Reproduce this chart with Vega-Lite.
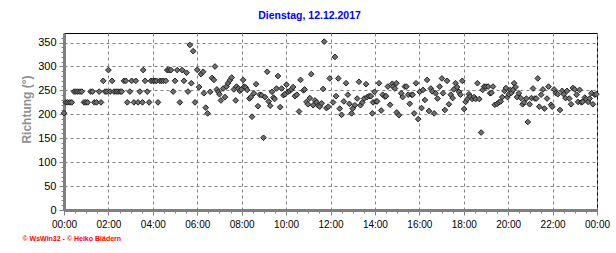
{
  "$schema": "https://vega.github.io/schema/vega-lite/v6.json",
  "width": 533,
  "height": 177,
  "autosize": "none",
  "padding": {"left": 64, "top": 33, "right": 19, "bottom": 43},
  "background": "white",
  "title": {"text": "Dienstag, 12.12.2017", "color": "#0000ff", "fontSize": 10.5, "fontWeight": "bold", "font": "Liberation Sans", "anchor": "middle", "dx": -21, "offset": 10},
  "config": {"view": {"stroke": "#000000", "strokeWidth": 1}},
  "data": {"values": [
    {"m":0,"v":202.5},{"m":5,"v":225},{"m":10,"v":225},{"m":16,"v":225},{"m":21,"v":225},{"m":27,"v":247.5},{"m":32,"v":247.5},{"m":37,"v":247.5},{"m":43,"v":247.5},{"m":48,"v":247.5},
    {"m":54,"v":225},{"m":59,"v":225},{"m":64,"v":225},{"m":72,"v":247.5},{"m":77,"v":247.5},{"m":82,"v":225},{"m":88,"v":225},{"m":95,"v":247.5},{"m":100,"v":225},{"m":106,"v":270},
    {"m":111,"v":247.5},{"m":116,"v":247.5},{"m":120,"v":292.5},{"m":125,"v":247.5},{"m":130,"v":270},{"m":135,"v":247.5},{"m":141,"v":247.5},{"m":146,"v":247.5},{"m":152,"v":247.5},{"m":156,"v":247.5},
    {"m":162,"v":270},{"m":167,"v":270},{"m":171,"v":225},{"m":178,"v":247.5},{"m":183,"v":270},{"m":189,"v":225},{"m":194,"v":270},{"m":200,"v":225},{"m":205,"v":247.5},{"m":212,"v":225},
    {"m":214,"v":292.5},{"m":219,"v":270},{"m":225,"v":247.5},{"m":230,"v":225},{"m":235,"v":270},{"m":241,"v":270},{"m":246,"v":270},{"m":250,"v":270},{"m":254,"v":225},{"m":259,"v":270},
    {"m":264,"v":270},{"m":269,"v":270},{"m":275,"v":270},{"m":279,"v":292.5},{"m":284,"v":292.5},{"m":289,"v":292.5},{"m":295,"v":247.5},{"m":300,"v":270},{"m":306,"v":292.5},{"m":313,"v":225},
    {"m":319,"v":292.5},{"m":324,"v":270},{"m":331,"v":287},{"m":335,"v":247.5},{"m":340,"v":345},{"m":344,"v":265},{"m":349,"v":332},{"m":354,"v":225},
    {"m":360,"v":293},{"m":365,"v":257},{"m":370,"v":284},{"m":376,"v":289},{"m":378,"v":244},{"m":383,"v":214},{"m":388,"v":202},{"m":395,"v":247},{"m":400,"v":276},{"m":405,"v":272},
    {"m":408,"v":300},{"m":413,"v":252},{"m":417,"v":247},{"m":420,"v":242},{"m":424,"v":229},{"m":430,"v":254},{"m":435,"v":236},{"m":439,"v":258},{"m":443,"v":265},{"m":448,"v":271},
    {"m":453,"v":277},{"m":459,"v":252},{"m":464,"v":229},{"m":466,"v":258},{"m":471,"v":254},{"m":475,"v":249},{"m":479,"v":252},{"m":484,"v":272},{"m":487,"v":258},{"m":491,"v":256},
    {"m":495,"v":251},{"m":501,"v":233},{"m":505,"v":236},{"m":508,"v":195},{"m":513,"v":244},{"m":519,"v":263},{"m":524,"v":217},{"m":529,"v":241},{"m":534,"v":240},{"m":539,"v":151},
    {"m":543,"v":236},{"m":549,"v":289},{"m":553,"v":227},{"m":557,"v":218},{"m":562,"v":247},{"m":566,"v":235},{"m":569,"v":232},{"m":574,"v":254},{"m":578,"v":280},{"m":584,"v":215},
    {"m":588,"v":254},{"m":593,"v":240},{"m":597,"v":242},{"m":601,"v":262},{"m":605,"v":247},{"m":610,"v":249},{"m":614,"v":252},{"m":619,"v":257},{"m":624,"v":238},{"m":629,"v":241},
    {"m":635,"v":206},{"m":639,"v":272},{"m":647,"v":250},{"m":650,"v":252},{"m":655,"v":226},{"m":659,"v":221},{"m":664,"v":234},{"m":668,"v":284},{"m":673,"v":219},{"m":678,"v":229},
    {"m":683,"v":225},{"m":687,"v":218},{"m":691,"v":216},{"m":696,"v":223},{"m":700,"v":253},{"m":703,"v":352},{"m":709,"v":213},{"m":714,"v":216},{"m":718,"v":275},
    {"m":727,"v":225},{"m":732,"v":320},{"m":735,"v":238},{"m":741,"v":275},{"m":745,"v":212},{"m":750,"v":199},{"m":756,"v":227},{"m":762,"v":265},{"m":767,"v":241},{"m":771,"v":222},
    {"m":777,"v":202},{"m":780,"v":212},{"m":786,"v":219},{"m":792,"v":233},{"m":797,"v":268},{"m":801,"v":219},{"m":806,"v":225},{"m":811,"v":233},{"m":816,"v":263},{"m":819,"v":236},
    {"m":824,"v":238},{"m":829,"v":238},{"m":833,"v":202},{"m":835,"v":225},{"m":839,"v":247},{"m":843,"v":227},{"m":846,"v":227},{"m":851,"v":265},{"m":857,"v":208},{"m":861,"v":241},
    {"m":867,"v":237},{"m":870,"v":238},{"m":875,"v":258},{"m":881,"v":220},{"m":887,"v":264},{"m":889,"v":258},{"m":894,"v":254},{"m":898,"v":265},{"m":899,"v":204},{"m":905,"v":198},
    {"m":911,"v":244},{"m":915,"v":236},{"m":921,"v":258},{"m":925,"v":258},{"m":930,"v":241},{"m":934,"v":222},{"m":939,"v":241},{"m":942,"v":241},{"m":946,"v":202},{"m":951,"v":265},
    {"m":957,"v":190},{"m":961,"v":247},{"m":966,"v":213},{"m":970,"v":251},{"m":975,"v":230},{"m":981,"v":272},{"m":986,"v":207},{"m":991,"v":254},{"m":995,"v":248},{"m":1000,"v":202},
    {"m":1004,"v":244},{"m":1009,"v":233},{"m":1015,"v":258},{"m":1021,"v":275},{"m":1024,"v":244},{"m":1029,"v":209},{"m":1035,"v":270},{"m":1040,"v":221},{"m":1045,"v":241},{"m":1050,"v":234},
    {"m":1053,"v":252},{"m":1058,"v":265},{"m":1062,"v":257},{"m":1067,"v":247},{"m":1071,"v":241},{"m":1076,"v":270},{"m":1081,"v":211},{"m":1085,"v":226},{"m":1090,"v":232},{"m":1094,"v":242},
    {"m":1097,"v":237},{"m":1103,"v":232},{"m":1108,"v":236},{"m":1112,"v":232},{"m":1117,"v":265},{"m":1122,"v":232},{"m":1127,"v":162},{"m":1131,"v":251},{"m":1135,"v":258},{"m":1140,"v":258},
    {"m":1146,"v":258},{"m":1151,"v":244},{"m":1155,"v":245},{"m":1159,"v":258},{"m":1164,"v":220},{"m":1170,"v":222},{"m":1175,"v":225},{"m":1180,"v":227},{"m":1184,"v":236},{"m":1190,"v":249},
    {"m":1194,"v":255},{"m":1198,"v":236},{"m":1202,"v":242},{"m":1206,"v":251},{"m":1209,"v":245},{"m":1213,"v":251},{"m":1216,"v":265},{"m":1220,"v":257},{"m":1224,"v":236},{"m":1229,"v":244},
    {"m":1234,"v":234},{"m":1239,"v":221},{"m":1243,"v":225},{"m":1249,"v":233},{"m":1253,"v":184},{"m":1258,"v":221},{"m":1263,"v":234},{"m":1267,"v":254},{"m":1272,"v":233},{"m":1276,"v":233},
    {"m":1280,"v":275},{"m":1284,"v":216},{"m":1289,"v":241},{"m":1294,"v":252},{"m":1298,"v":212},{"m":1305,"v":233},{"m":1309,"v":258},{"m":1316,"v":220},{"m":1319,"v":216},{"m":1324,"v":252},
    {"m":1329,"v":245},{"m":1334,"v":242},{"m":1340,"v":209},{"m":1346,"v":249},{"m":1350,"v":242},{"m":1355,"v":234},{"m":1359,"v":249},{"m":1365,"v":233},{"m":1370,"v":221},{"m":1375,"v":255},
    {"m":1380,"v":252},{"m":1385,"v":241},{"m":1389,"v":226},{"m":1393,"v":251},{"m":1398,"v":225},{"m":1401,"v":226},{"m":1407,"v":235},{"m":1411,"v":232},{"m":1416,"v":226},{"m":1420,"v":233},
    {"m":1425,"v":244},{"m":1429,"v":221},{"m":1434,"v":241},{"m":1438,"v":242}
  ]},
  "mark": {"type": "point", "shape": "diamond", "filled": true, "size": 32, "fill": "#707070", "stroke": "#202020", "strokeWidth": 1, "opacity": 1},
  "encoding": {
    "x": {
      "field": "m", "type": "quantitative",
      "scale": {"domain": [0, 1440], "nice": false, "zero": false},
      "axis": {
        "values": [0,30,60,90,120,150,180,210,240,270,300,330,360,390,420,450,480,510,540,570,600,630,660,690,720,750,780,810,840,870,900,930,960,990,1020,1050,1080,1110,1140,1170,1200,1230,1260,1290,1320,1350,1380,1410,1440],
        "labelExpr": "datum.value % 120 === 0 ? ((floor(datum.value/60)%24 < 10 ? '0' : '') + (floor(datum.value/60)%24) + ':00') : ''",
        "labelOverlap": false, "labelFlush": false, "labelBound": false,
        "labelFont": "Liberation Sans", "labelFontSize": 10, "labelColor": "#000000", "labelPadding": 4,
        "domainColor": "#808080", "domainWidth": 3,
        "tickColor": "#808080", "tickWidth": 1,
        "tickSize": {"expr": "datum.value % 120 === 0 ? 5 : 3"},
        "grid": true, "gridColor": "#808080", "gridDash": [3, 3], "gridWidth": 1,
        "gridOpacity": {"expr": "datum.value % 120 === 0 ? 1 : 0"},
        "title": "© WsWin32 - © Heiko Blädern",
        "titleColor": "#ff0000", "titleFont": "Liberation Sans", "titleFontSize": 7, "titleFontWeight": "bold",
        "titleAnchor": "start", "titleAlign": "left", "titleBaseline": "middle",
        "titleX": -42, "titleY": 28
      }
    },
    "y": {
      "field": "v", "type": "quantitative",
      "scale": {"domain": [0, 370], "nice": false, "zero": true},
      "axis": {
        "values": [0,10,20,30,40,50,60,70,80,90,100,110,120,130,140,150,160,170,180,190,200,210,220,230,240,250,260,270,280,290,300,310,320,330,340,350,360],
        "labelExpr": "datum.value % 50 === 0 ? datum.label : ''",
        "labelOverlap": false, "labelFlush": false, "labelBound": false,
        "labelFont": "Liberation Sans", "labelFontSize": 11, "labelColor": "#000000", "labelPadding": 3,
        "domainColor": "#808080", "domainWidth": 3,
        "tickColor": "#808080", "tickWidth": 1,
        "tickSize": {"expr": "datum.value % 50 === 0 ? 5 : 3"},
        "grid": true, "gridColor": "#808080", "gridDash": [3, 3], "gridWidth": 1,
        "gridOpacity": {"expr": "datum.value % 50 === 0 && datum.value > 0 ? 1 : 0"},
        "title": "Richtung (°)",
        "titleColor": "#909090", "titleFont": "Liberation Sans", "titleFontSize": 12, "titleFontWeight": "bold",
        "titleAngle": -90, "titleAlign": "center", "titleBaseline": "middle",
        "titleX": -38, "titleY": 76
      }
    }
  }
}
